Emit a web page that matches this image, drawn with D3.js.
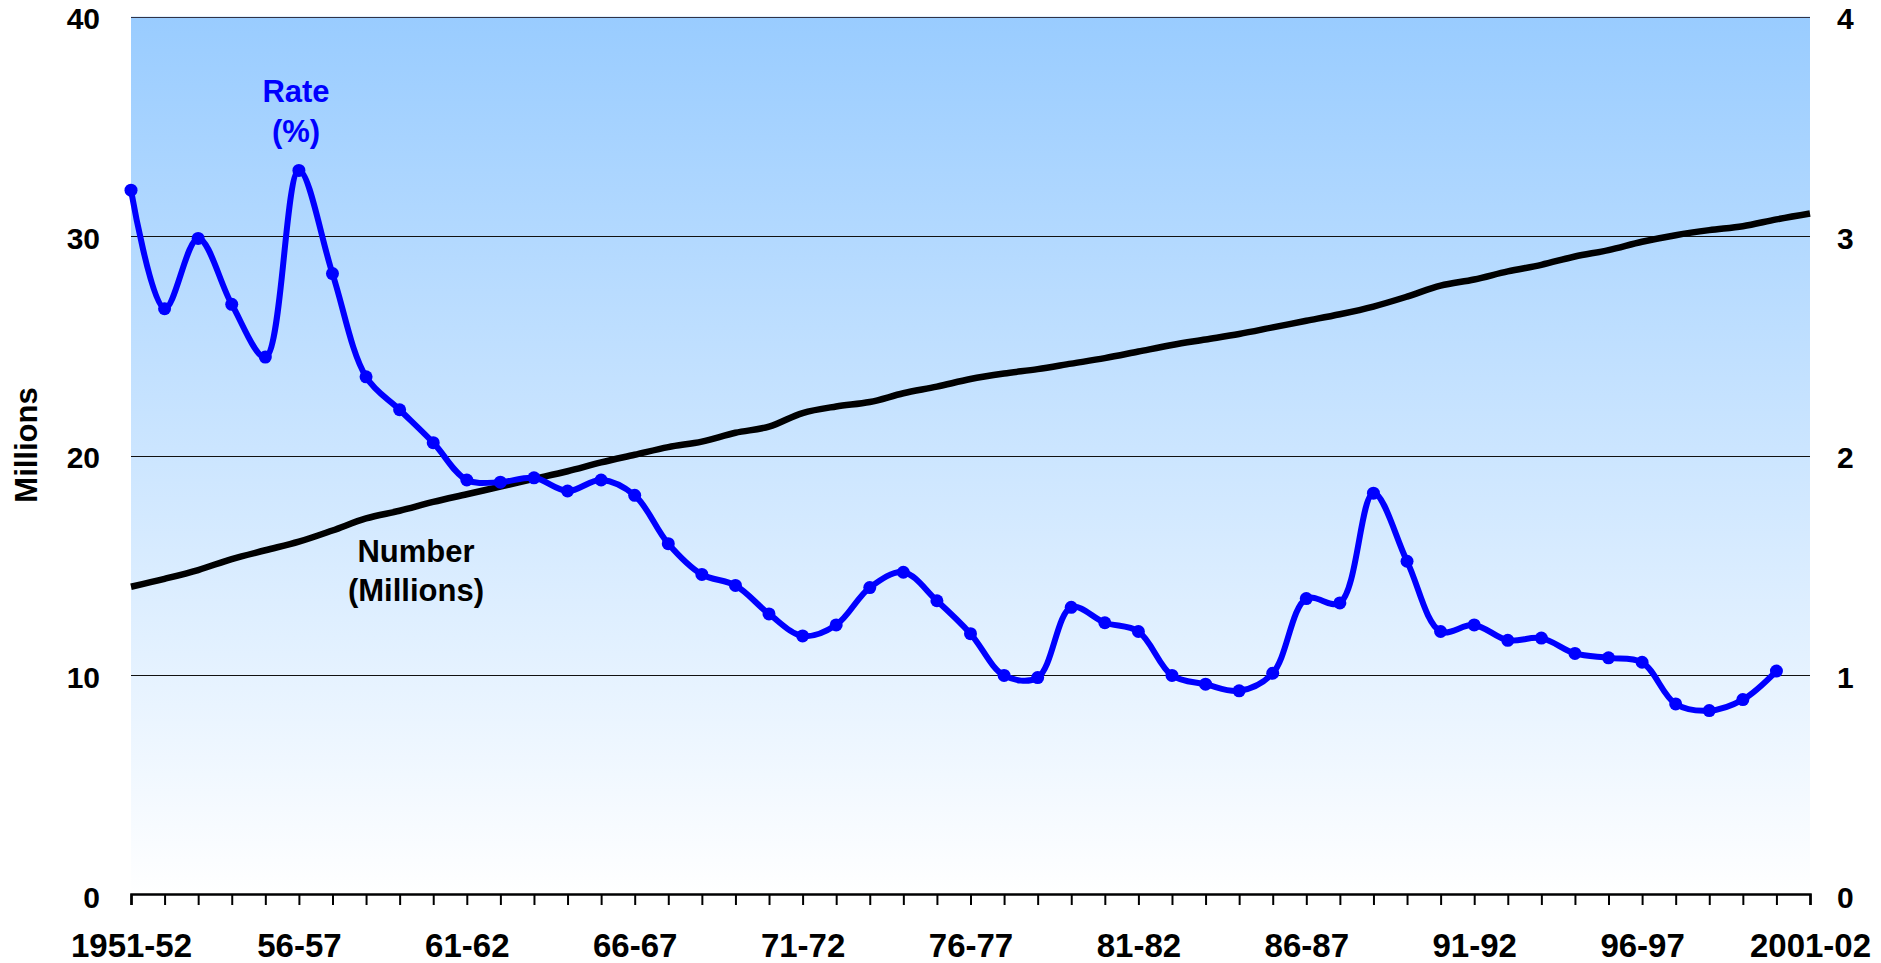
<!DOCTYPE html>
<html>
<head>
<meta charset="utf-8">
<script src="https://cdn.jsdelivr.net/npm/d3@7"></script>
<style>
  body { margin: 0; background: #fff; }
  text { font-family: "Liberation Sans", Arial, sans-serif; font-weight: bold; }
</style>
</head>
<body>
<div id="chart"></div>
<script>
// school years, one per point
const years = [
  '1951-52', '1952-53', '1953-54', '1954-55', '1955-56', '1956-57', '1957-58', '1958-59', '1959-60', '1960-61',
  '1961-62', '1962-63', '1963-64', '1964-65', '1965-66', '1966-67', '1967-68', '1968-69', '1969-70', '1970-71',
  '1971-72', '1972-73', '1973-74', '1974-75', '1975-76', '1976-77', '1977-78', '1978-79', '1979-80', '1980-81',
  '1981-82', '1982-83', '1983-84', '1984-85', '1985-86', '1986-87', '1987-88', '1988-89', '1989-90', '1990-91',
  '1991-92', '1992-93', '1993-94', '1994-95', '1995-96', '1996-97', '1997-98', '1998-99', '1999-00', '2000-01',
  '2001-02',
];

// labels shown under the axis
const tickLabels = {
  '1951-52': '1951-52', '1956-57': '56-57', '1961-62': '61-62', '1966-67': '66-67',
  '1971-72': '71-72', '1976-77': '76-77', '1981-82': '81-82', '1986-87': '86-87',
  '1991-92': '91-92', '1996-97': '96-97', '2001-02': '2001-02',
};

// number (millions), left axis
const number = [
  14.04, 14.4, 14.8, 15.3, 15.7, 16.09, 16.6, 17.15, 17.5, 17.9,
  18.25, 18.6, 18.95, 19.3, 19.7, 20.05, 20.4, 20.65, 21.05, 21.33,
  21.95, 22.25, 22.45, 22.85, 23.15, 23.5, 23.75, 23.95, 24.2, 24.45,
  24.75, 25.05, 25.3, 25.55, 25.85, 26.15, 26.45, 26.8, 27.25, 27.75,
  28.03, 28.4, 28.7, 29.08, 29.37, 29.75, 30.05, 30.28, 30.46, 30.77,
  31.04,
];

// rate (%), right axis -- ends at 2000-01
const rate = [
  3.21, 2.67, 2.99, 2.69, 2.45, 3.30, 2.83, 2.36, 2.21, 2.06,
  1.89, 1.88, 1.90, 1.84, 1.89, 1.82, 1.60, 1.46, 1.41, 1.28,
  1.18, 1.23, 1.40, 1.47, 1.34, 1.19, 1.00, 0.99, 1.31, 1.24,
  1.20, 1.00, 0.96, 0.93, 1.01, 1.35, 1.33, 1.83, 1.52, 1.20,
  1.23, 1.16, 1.17, 1.10, 1.08, 1.06, 0.87, 0.84, 0.89, 1.02,
];

const leftTicks = [0, 10, 20, 30, 40];
const rightTicks = [0, 1, 2, 3, 4];

const width = 1881;
const height = 963;
const margin = { top: 16.7, right: 71, bottom: 68, left: 131 };

const svg = d3.select('#chart').append('svg')
  .attr('width', width)
  .attr('height', height);

const x = d3.scalePoint().domain(years).range([margin.left, width - margin.right]);
const yL = d3.scaleLinear().domain([0, 40]).range([height - margin.bottom, margin.top]);
const yR = d3.scaleLinear().domain([0, 4]).range([height - margin.bottom, margin.top]);

// plot background
const grad = svg.append('defs').append('linearGradient')
  .attr('id', 'bg').attr('x1', 0).attr('y1', 0).attr('x2', 0).attr('y2', 1);
grad.append('stop').attr('offset', '0%').attr('stop-color', '#99ccff');
grad.append('stop').attr('offset', '100%').attr('stop-color', '#ffffff');

svg.append('rect')
  .attr('x', margin.left)
  .attr('y', margin.top)
  .attr('width', width - margin.right - margin.left)
  .attr('height', height - margin.bottom - margin.top)
  .attr('fill', 'url(#bg)');

// gridlines
svg.append('g')
  .selectAll('line')
  .data(leftTicks.filter(d => d > 0))
  .join('line')
  .attr('x1', margin.left)
  .attr('x2', width - margin.right)
  .attr('y1', d => Math.round(yL(d)) + 0.5)
  .attr('y2', d => Math.round(yL(d)) + 0.5)
  .attr('stroke', d => (d === 40 ? '#334' : '#111'))
  .attr('stroke-width', 1.2);

// left axis
const gL = svg.append('g')
  .attr('transform', `translate(${margin.left},0)`)
  .call(d3.axisLeft(yL).tickValues(leftTicks).tickSize(0).tickPadding(31));
gL.select('.domain').remove();
gL.selectAll('text').attr('font-size', 30).attr('dy', '0.4em').attr('fill', '#000').attr('font-family', null);

// right axis
const gR = svg.append('g')
  .attr('transform', `translate(${width - margin.right},0)`)
  .call(d3.axisRight(yR).tickValues(rightTicks).tickFormat(d3.format('d')).tickSize(0).tickPadding(27));
gR.select('.domain').remove();
gR.selectAll('text').attr('font-size', 30).attr('dy', '0.4em').attr('fill', '#000').attr('font-family', null);

// bottom axis
const gB = svg.append('g')
  .attr('transform', `translate(0,${height - margin.bottom - 1})`)
  .call(d3.axisBottom(x).tickSize(11).tickFormat(d => tickLabels[d] || ''));
gB.select('.domain').attr('stroke', '#000').attr('stroke-width', 2.5);
gB.selectAll('.tick line').attr('stroke', '#000').attr('stroke-width', 2);
gB.selectAll('text')
  .attr('font-size', 33)
  .attr('fill', '#000')
  .attr('font-family', null)
  .attr('y', 63)
  .attr('dy', 0);

// y title
svg.append('text')
  .attr('transform', 'translate(37,445) rotate(-90)')
  .attr('text-anchor', 'middle')
  .attr('font-size', 31)
  .text('Millions');

// number line
svg.append('path')
  .datum(number)
  .attr('fill', 'none')
  .attr('stroke', '#000')
  .attr('stroke-width', 6.5)
  .attr('stroke-linejoin', 'round')
  .attr('d', d3.line()
    .x((d, i) => x(years[i]))
    .y(d => yL(d))
    .curve(d3.curveCatmullRom.alpha(0.5)));

// rate line
svg.append('path')
  .datum(rate)
  .attr('fill', 'none')
  .attr('stroke', '#0000ff')
  .attr('stroke-width', 6)
  .attr('stroke-linejoin', 'round')
  .attr('d', d3.line()
    .x((d, i) => x(years[i]))
    .y(d => yR(d))
    .curve(d3.curveCatmullRom.alpha(0.5)));

svg.append('g')
  .selectAll('circle')
  .data(rate)
  .join('circle')
  .attr('cx', (d, i) => x(years[i]))
  .attr('cy', d => yR(d))
  .attr('r', 6.5)
  .attr('fill', '#0000ff');

// series labels
const rateLabel = svg.append('text')
  .attr('text-anchor', 'middle')
  .attr('font-size', 31)
  .attr('fill', '#0000ff');
rateLabel.append('tspan').attr('x', 296).attr('y', 102).text('Rate');
rateLabel.append('tspan').attr('x', 296).attr('y', 142).text('(%)');

const numLabel = svg.append('text')
  .attr('text-anchor', 'middle')
  .attr('font-size', 31)
  .attr('fill', '#000');
numLabel.append('tspan').attr('x', 416).attr('y', 562).text('Number');
numLabel.append('tspan').attr('x', 416).attr('y', 601).text('(Millions)');
</script>
</body>
</html>
